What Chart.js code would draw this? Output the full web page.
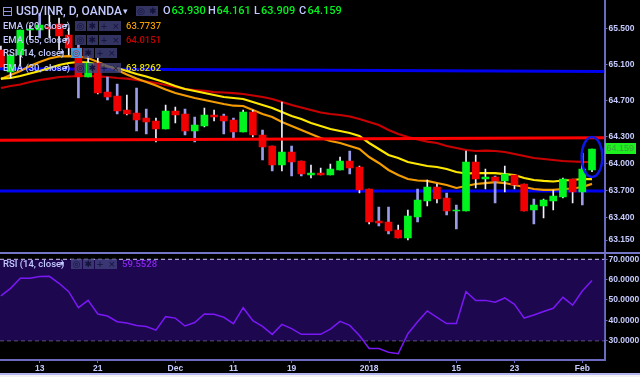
<!DOCTYPE html>
<html>
<head>
<meta charset="utf-8">
<style>
  html, body { margin: 0; padding: 0; background: #f2f2f2; overflow: hidden; }
  #wrap { position: relative; width: 640px; height: 373px; background: #000; overflow: hidden; }
  canvas { position: absolute; left: 0; }
  #priceChart { top: 0; }
  #rsiChart { top: 254px; }
  .sep { position: absolute; left: 0; width: 640px; height: 2px; background: #7474c8; }
  #overlay { position: absolute; left: 0; top: 0; width: 640px; height: 373px; pointer-events: none; font-family: Roboto, sans-serif; color: #bcc4ff; }
  .t { position: absolute; white-space: nowrap; line-height: 12px; }
  .box { position: absolute; width: 11px; height: 10px; background: rgba(66,66,125,.78); color: #12123a; font: 9px/10px "DejaVu Sans", sans-serif; text-align: center; }
  .box.on { background: #3f9ae0; color: #c01030; }
</style>
<script src="https://cdn.jsdelivr.net/npm/chart.js@4"></script>
</head>
<body>
<div id="wrap">
  <canvas id="priceChart" width="640" height="253"></canvas>
  <div class="sep" style="top:252px"></div>
  <canvas id="rsiChart" width="640" height="119"></canvas>
  <div id="overlay"></div>
</div>
<div style="position:absolute;left:0;top:373px;width:640px;height:2px;background:#b4b4f0"></div>
<script>
// USD/INR daily
const opens = [65.261,65.017,65.206,65.483,65.483,65.517,65.550,65.428,65.283,64.961,65.117,64.794,64.750,64.594,64.561,64.506,64.472,64.383,64.583,64.550,64.361,64.417,64.539,64.528,64.483,64.350,64.572,64.317,64.194,63.983,64.128,64.028,63.872,63.894,63.872,63.928,64.028,63.961,63.717,63.361,63.350,63.261,63.172,63.406,63.583,63.739,63.617,63.472,63.472,64.017,63.828,63.850,63.806,63.872,63.772,63.483,63.528,63.583,63.628,63.828,63.683,63.930];
const closes = [65.072,65.206,65.483,65.494,65.539,65.494,65.417,65.283,64.961,65.117,64.783,64.739,64.583,64.550,64.483,64.461,64.383,64.583,64.539,64.361,64.428,64.539,64.517,64.472,64.350,64.572,64.317,64.183,63.983,64.128,64.017,63.883,63.894,63.872,63.939,64.028,63.950,63.706,63.350,63.339,63.250,63.172,63.417,63.594,63.739,63.606,63.472,63.483,64.017,63.828,63.850,63.806,63.883,63.761,63.472,63.539,63.594,63.639,63.828,63.683,63.939,64.159];
const highs = [65.306,65.206,65.483,65.539,65.672,65.650,65.617,65.506,65.317,65.206,65.172,64.961,64.883,64.761,64.839,64.606,64.506,64.650,64.628,64.606,64.517,64.617,64.594,64.550,64.506,64.594,64.594,64.372,64.194,64.683,64.194,64.028,63.983,63.950,63.994,64.072,64.139,63.972,63.717,63.517,63.517,63.317,63.483,63.717,63.817,63.772,63.672,63.539,64.139,64.094,63.939,63.861,63.972,63.872,63.772,63.606,63.606,63.706,63.839,63.828,64.117,64.161];
const lows = [65.072,64.950,65.083,65.372,65.394,65.394,65.261,65.206,64.728,64.961,64.772,64.706,64.550,64.539,64.361,64.328,64.239,64.383,64.450,64.317,64.239,64.406,64.472,64.328,64.283,64.350,64.294,64.039,63.917,63.917,63.861,63.861,63.839,63.872,63.872,63.928,63.883,63.672,63.328,63.306,63.217,63.172,63.150,63.350,63.528,63.561,63.428,63.272,63.472,63.728,63.717,63.561,63.683,63.717,63.472,63.328,63.394,63.483,63.617,63.561,63.539,63.909];
// which candles have the lavender wick, the rest are white
const lavenderWicks = [4,8,11,12,14,15,19,20,23,24,27,28,30,31,36,39,40,43,46,47,51,55,60];

const ema20 = [64.939,64.983,65.028,65.083,65.128,65.167,65.189,65.194,65.189,65.172,65.128,65.083,65.039,64.989,64.944,64.906,64.867,64.822,64.783,64.756,64.728,64.706,64.683,64.661,64.642,64.639,64.594,64.550,64.517,64.461,64.417,64.372,64.328,64.283,64.250,64.228,64.194,64.161,64.072,64.006,63.928,63.872,63.828,63.811,63.806,63.783,63.761,63.728,63.750,63.772,63.783,63.794,63.783,63.761,63.739,63.717,63.706,63.706,63.717,63.722,63.739,63.7737];
const ema30 = [64.944,64.950,64.972,65.000,65.028,65.061,65.094,65.117,65.128,65.122,65.100,65.078,65.061,65.028,64.994,64.967,64.933,64.900,64.861,64.828,64.806,64.783,64.761,64.739,64.728,64.717,64.683,64.650,64.617,64.572,64.528,64.494,64.450,64.417,64.383,64.361,64.339,64.306,64.228,64.161,64.094,64.061,64.017,63.994,63.972,63.961,63.939,63.906,63.889,63.894,63.894,63.894,63.883,63.872,63.839,63.817,63.806,63.800,63.811,63.817,63.828,63.8262];
const ema55 = [64.839,64.861,64.878,64.906,64.928,64.944,64.961,64.967,64.972,64.972,64.967,64.961,64.950,64.944,64.928,64.911,64.894,64.872,64.850,64.828,64.817,64.806,64.794,64.789,64.783,64.772,64.756,64.739,64.717,64.683,64.650,64.622,64.594,64.567,64.550,64.539,64.522,64.494,64.461,64.428,64.372,64.328,64.294,64.267,64.244,64.228,64.194,64.172,64.150,64.139,64.144,64.139,64.128,64.106,64.083,64.061,64.050,64.039,64.028,64.022,64.017,64.0151];
const rsi14 = [52.0,55.7,60.7,60.7,61.5,61.6,58.2,54.1,46.2,49.8,43.1,42.1,39.3,38.7,37.5,37.0,35.2,41.8,41.1,37.2,38.9,43.1,43.0,41.5,38.4,46.2,39.8,37.0,33.1,38.0,35.9,33.1,33.1,33.1,35.7,39.5,37.5,32.5,26.2,26.1,24.3,23.6,33.4,39.3,44.6,41.5,38.4,38.4,54.1,49.7,49.8,48.9,51.0,47.9,41.1,42.6,44.3,45.9,51.3,47.5,54.4,59.55];

// drawn trend lines [left, right]
const upperBlue = [65.052, 65.023];
const redLine = [64.259, 64.286];
const lowerBlue = [63.694, 63.694];

const priceTicks = [63.15, 63.4, 63.7, 64, 64.3, 64.7, 65.1, 65.5];
const rsiTicks = [30, 40, 50, 60, 70];
const dateTickIdx = [4, 10, 18, 24, 30, 38, 47, 53, 60];
const dateTickLabels = ["13", "21", "Dec", "11", "19", "2018", "15", "23", "Feb"];

const X_MIN = -0.093, X_MAX = 62.29;
const AXIS_W = 35.5;
const AXIS_COL = "#6a6ac0", TEXT_COL = "#c6ccff";
const UP = "#00f51e", DOWN = "#f00000";

const idx = opens.map((_, i) => i);
const line = (vals) => idx.map(i => ({ x: i, y: vals[i] }));
const hline = (pair) => [{ x: X_MIN, y: pair[0] }, { x: X_MAX, y: pair[1] }];

// chart.js keeps half a label of room at the ends, this chart runs to the edges
function noEndPadding(s) {
  s.paddingTop = s.paddingBottom = s.paddingLeft = s.paddingRight = 0;
}
function sharedX(show) {
  return {
    type: "linear", min: X_MIN, max: X_MAX, offset: false, display: show,
    afterBuildTicks: s => { s.ticks = dateTickIdx.map(v => ({ value: v })); },
    afterFit: s => { if (show) s.height = 13; noEndPadding(s); },
    grid: { drawOnChartArea: false, color: AXIS_COL, tickLength: 3 },
    border: { color: AXIS_COL, width: 2 },
    ticks: {
      autoSkip: false, maxRotation: 0, padding: 1, color: TEXT_COL,
      font: { family: "Liberation Sans", size: 8.5, weight: "bold" },
      callback: v => dateTickLabels[dateTickIdx.indexOf(v)]
    }
  };
}
function sharedY(min, max, list, dec) {
  return {
    position: "right", min, max,
    afterBuildTicks: s => { s.ticks = list.map(v => ({ value: v })); },
    afterFit: s => { s.width = AXIS_W; noEndPadding(s); },
    grid: { drawOnChartArea: false, color: AXIS_COL, tickLength: 3 },
    border: { color: AXIS_COL, width: 2 },
    ticks: {
      autoSkip: false, padding: 1, color: TEXT_COL,
      font: { family: "Liberation Sans", size: 8.5, weight: "bold" },
      callback: v => v.toFixed(dec)
    }
  };
}
const baseOpts = {
  responsive: false, animation: false,
  layout: { padding: 0 },
  plugins: { legend: { display: false }, tooltip: { enabled: false } }
};

// blue ring round the last candle
const ringPlugin = {
  id: "ring",
  afterDatasetsDraw(c) {
    const { x, y } = c.scales, ctx = c.ctx;
    const cx = x.getPixelForValue(61), cy = y.getPixelForValue(64.072);
    const rx = x.getPixelForValue(62.07) - cx, ry = cy - y.getPixelForValue(64.294);
    ctx.save();
    ctx.strokeStyle = "#0c18e8";
    ctx.lineWidth = 2.5;
    ctx.beginPath();
    ctx.ellipse(cx, cy, rx, ry, 0, 0, Math.PI * 2);
    ctx.stroke();
    ctx.restore();
  }
};

const lineDs = (data, color, width, order) => ({
  type: "line", data, borderColor: color, borderWidth: width, pointRadius: 0, tension: 0, order
});
const wickDs = (list, color, thick) => ({
  data: list.map(i => ({ x: i, y: [lows[i], highs[i]] })),
  backgroundColor: color, barThickness: thick, grouped: false, order: 2
});

new Chart(document.getElementById("priceChart"), {
  type: "bar",
  data: {
    datasets: [
      lineDs(hline(redLine), "#ff0000", 3, 0),
      {
        data: idx.map(i => ({ x: i, y: [opens[i], closes[i]] })),
        backgroundColor: idx.map(i => closes[i] >= opens[i] ? UP : DOWN),
        barThickness: 7, grouped: false, order: 1
      },
      wickDs(lavenderWicks, "#9a9ce8", 2),
      wickDs(idx.filter(i => !lavenderWicks.includes(i)), "#f0f0ff", 1),
      lineDs(line(ema30), "#ffe800", 2.2, 3),
      lineDs(line(ema20), "#f39c00", 2.2, 4),
      lineDs(line(ema55), "#c80000", 2.2, 5),
      lineDs(hline(upperBlue), "#0000f0", 3, 6),
      lineDs(hline(lowerBlue), "#0000f0", 3, 6)
    ]
  },
  options: { ...baseOpts, scales: { x: sharedX(false), y: sharedY(63.0056, 65.8167, priceTicks, 3) } },
  plugins: [ringPlugin]
});

new Chart(document.getElementById("rsiChart"), {
  type: "line",
  data: {
    datasets: [
      { data: line(rsi14), borderColor: "#7a18f5", borderWidth: 1.5, pointRadius: 0, tension: 0, order: 1 },
      {
        data: hline([70, 70]), borderColor: "#d0c4ff", borderWidth: 1, borderDash: [4, 3], pointRadius: 0, order: 2,
        fill: { target: { value: 30 } }, backgroundColor: "#1d0850"
      },
      { data: hline([30, 30]), borderColor: "#d0c4ff", borderWidth: 1, borderDash: [4, 3], pointRadius: 0, order: 2 }
    ]
  },
  options: { ...baseOpts, scales: { x: sharedX(true), y: sharedY(20.5, 72.6, rsiTicks, 4) } }
});

// header and study legends
const overlay = document.getElementById("overlay");
function text(str, x, y, size, color, weight) {
  const d = document.createElement("div");
  d.className = "t";
  d.textContent = str;
  d.style.cssText = `left:${x}px;top:${y}px;font-size:${size}px;color:${color};font-weight:${weight || 400}`;
  overlay.appendChild(d);
  return d;
}
function buttons(x, y, glyphs, hot) {
  glyphs.forEach((g, i) => {
    const b = document.createElement("div");
    b.className = "box" + (hot && i === 0 ? " on" : "");
    b.textContent = g;
    b.style.left = (x + i * 11.8) + "px";
    b.style.top = y + "px";
    overlay.appendChild(b);
  });
}
const LAV = "#c2c9ff", GRN = "#00f51e";
const menu = document.createElement("div");
menu.style.cssText = "position:absolute;left:3px;top:7px;width:7px;height:7px;border:1px solid #8e94e0;background:linear-gradient(#8e94e0,#8e94e0) center/100% 1px no-repeat";
overlay.appendChild(menu);
text("USD/INR, D, OANDA", 16, 5, 12, LAV, 500);
text("▾", 122.5, 5, 9, LAV);
buttons(135.5, 5.5, ["◎", "✱"]);
[["O", "63.930", 163], ["H", "64.161", 208], ["L", "63.909", 254], ["C", "64.159", 299]].forEach(([k, v, x]) => {
  text(k, x, 5, 11, LAV, 500);
  text(v, x + (k === "L" ? 7 : 8.5), 5, 11, GRN, 500);
});
const rows = [
  ["EMA (20, close)", 19.5, 75, "63.7737", "#f39c00"],
  ["EMA (55, close)", 33.5, 75, "64.0151", "#c80000"],
  ["RSI (14, close)", 47, 71, "", ""],
  ["EMA (30, close)", 61.5, 75, "63.8262", "#e8e000"]
];
rows.forEach(([label, y, bx, val, col], r) => {
  text(label, 3, y, 9.5, LAV, 500);
  text("▾", r === 2 ? 59.5 : 63.5, y, 8, LAV);
  buttons(bx, y + 1, ["◎", "✱", "+", "×"], r === 2);
  if (val) text(val, 126, y, 9.5, col, 500);
});
text("RSI (14, close)", 3, 258, 9.5, LAV, 500);
text("▾", 59.5, 258, 8, LAV);
buttons(71, 259, ["◎", "✱", "+", "×"]);
text("59.5528", 122, 258, 9.5, "#8a24f0", 500);
const tag = text("64.159", 604.5, 143, 9, "#3ca03c");
tag.style.cssText += ";width:31.5px;height:11px;line-height:11px;background:#1cf01e;text-align:center;font-family:'Liberation Sans'";
</script>
</body>
</html>
